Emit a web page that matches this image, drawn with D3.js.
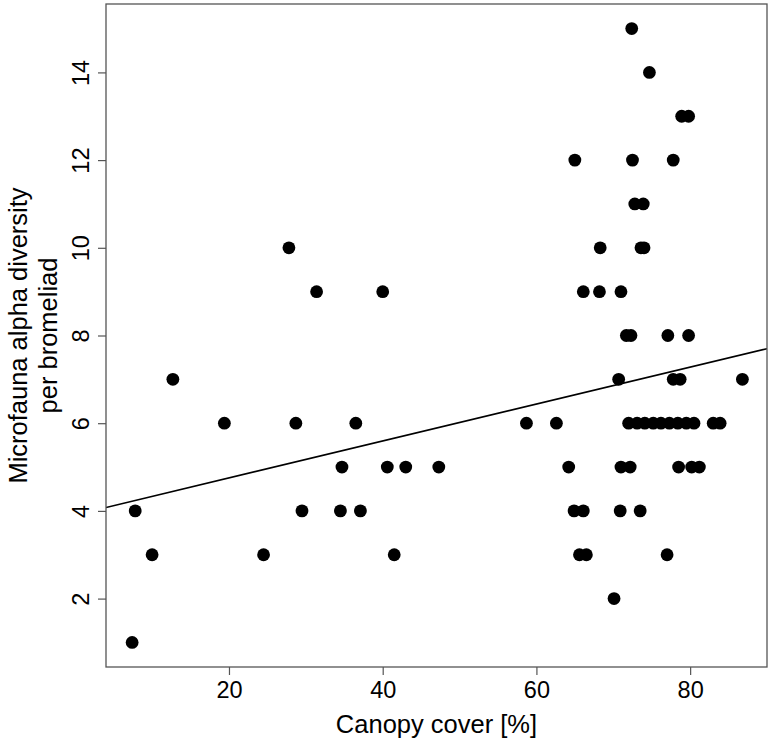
<!DOCTYPE html>
<html>
<head>
<meta charset="utf-8">
<script src="https://cdn.jsdelivr.net/npm/d3@7"></script>
<style>
  body { margin: 0; background: #fff; }
  text { font-family: 'Liberation Sans', Arial, sans-serif; fill: #000; }
</style>
</head>
<body>
<div class="chart"></div>
<script>
'use strict';

// canopy cover [%] and alpha diversity
const canopy = [
  7.4, 7.8, 10.0, 12.7, 19.4, 24.5, 27.8, 28.7, 29.5, 31.4,
  34.7, 34.5, 36.5, 37.1, 40.0, 40.6, 41.5, 43.0, 47.3,
  58.7, 62.6, 64.2, 64.9, 66.1, 65.6, 66.5, 65.0, 66.1, 68.2,
  68.3, 70.1, 70.7, 70.9, 71.0, 71.0, 71.7, 72.2, 72.3, 72.4,
  72.5, 72.8, 73.5, 73.6, 73.9, 74.0, 74.7, 77.0, 77.1, 77.8,
  77.8, 78.5, 78.7, 78.9, 79.8, 79.8, 80.2, 81.2, 86.8,
  72.0, 73.1, 74.1, 75.2, 76.2, 77.3, 78.4, 79.5, 80.5, 83.0, 83.9
];
const diversity = [
  1, 4, 3, 7, 6, 3, 10, 6, 4, 9,
  5, 4, 6, 4, 9, 5, 3, 5, 5,
  6, 6, 5, 4, 4, 3, 3, 12, 9, 9,
  10, 2, 7, 4, 9, 5, 8, 5, 8, 15,
  12, 11, 4, 10, 11, 10, 14, 3, 8, 12,
  7, 5, 7, 13, 13, 8, 5, 5, 7,
  6, 6, 6, 6, 6, 6, 6, 6, 6, 6, 6
];

// fitted line: intercept, slope
const fit = [3.91, 0.0421];

const xTicks = [20, 40, 60, 80];
const yTicks = [2, 4, 6, 8, 10, 12, 14];

const WIDTH = 773;
const HEIGHT = 743;
const margin = {left: 106, right: 6, top: 4, bottom: 76};

const points = canopy.map((c, i) => ({x: c, y: diversity[i]}));

const x = d3.scaleLinear()
    .domain([4.0, 90.0])
    .range([margin.left, WIDTH - margin.right]);

const y = d3.scaleLinear()
    .domain([0.44, 15.56])
    .range([HEIGHT - margin.bottom, margin.top]);

const svg = d3.select('.chart')
  .append('svg')
    .attr('width', WIDTH)
    .attr('height', HEIGHT);

svg.append('clipPath')
    .attr('id', 'plot-clip')
  .append('rect')
    .attr('x', margin.left)
    .attr('y', margin.top)
    .attr('width', WIDTH - margin.left - margin.right)
    .attr('height', HEIGHT - margin.top - margin.bottom);

// points
svg.append('g')
  .selectAll('circle')
  .data(points)
  .enter().append('circle')
    .attr('cx', d => x(d.x))
    .attr('cy', d => y(d.y))
    .attr('r', 6.4)
    .attr('fill', '#000');

// regression line
const [x0, x1] = x.domain();
svg.append('line')
    .attr('clip-path', 'url(#plot-clip)')
    .attr('x1', x(x0))
    .attr('y1', y(fit[0] + fit[1] * x0))
    .attr('x2', x(x1))
    .attr('y2', y(fit[0] + fit[1] * x1))
    .attr('stroke', '#000')
    .attr('stroke-width', 1.6);

// axes
const xAxis = svg.append('g')
    .attr('transform', `translate(0,${HEIGHT - margin.bottom})`)
    .call(d3.axisBottom(x).tickValues(xTicks).tickSize(8));

const yAxis = svg.append('g')
    .attr('transform', `translate(${margin.left},0)`)
    .call(d3.axisLeft(y).tickValues(yTicks).tickSize(8));

[xAxis, yAxis].forEach(g => {
  g.select('.domain').remove();
  g.selectAll('line').attr('stroke', '#555').attr('stroke-width', 1.2);
  g.selectAll('text')
      .style('font-family', "'Liberation Sans', Arial, sans-serif")
      .style('font-size', '23.5px')
      .attr('fill', '#000');
});

xAxis.selectAll('text')
    .attr('dy', null)
    .attr('y', 31);

yAxis.selectAll('text')
    .attr('text-anchor', 'middle')
    .attr('dy', null)
    .attr('x', null)
    .attr('transform', 'translate(-17,0) rotate(-90)')
    .attr('y', 0);

// box round the plot
svg.append('rect')
    .attr('x', margin.left)
    .attr('y', margin.top)
    .attr('width', WIDTH - margin.left - margin.right)
    .attr('height', HEIGHT - margin.top - margin.bottom)
    .attr('fill', 'none')
    .attr('stroke', '#555')
    .attr('stroke-width', 1.3);

// titles
svg.append('text')
    .attr('x', (margin.left + WIDTH - margin.right) / 2)
    .attr('y', 733)
    .attr('text-anchor', 'middle')
    .style('font-size', '25.5px')
    .text('Canopy cover [%]');

const midY = (margin.top + HEIGHT - margin.bottom) / 2;
const ylab = svg.append('text')
    .attr('transform', `translate(27,${midY}) rotate(-90)`)
    .attr('text-anchor', 'middle')
    .style('font-size', '25.5px');

ylab.append('tspan')
    .attr('x', 0)
    .attr('y', 0)
    .text('Microfauna alpha diversity');

ylab.append('tspan')
    .attr('x', 0)
    .attr('y', 30)
    .text('per bromeliad');
</script>
</body>
</html>
